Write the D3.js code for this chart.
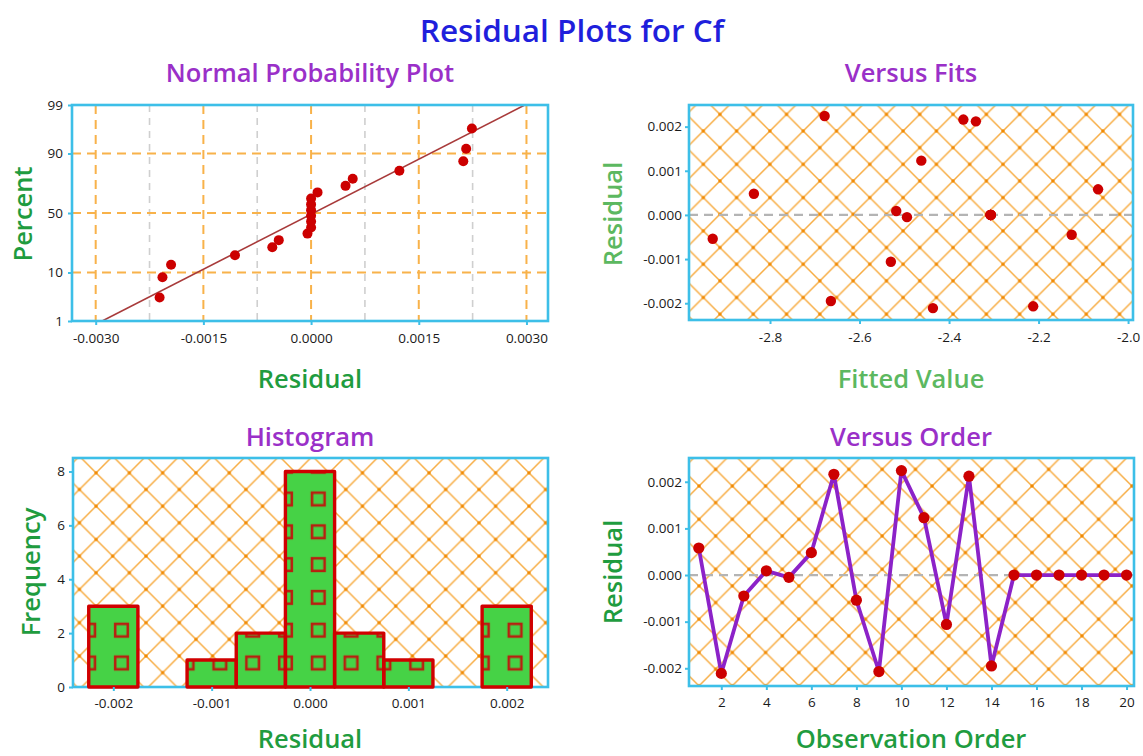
<!DOCTYPE html>
<html><head><meta charset="utf-8">
<script src="https://cdn.jsdelivr.net/npm/d3@7"></script>
<style>
body{margin:0;background:#fff}
svg{display:block}
text{font-family:'Open Sans','Noto Sans',sans-serif}
</style>
</head><body>
<svg id="c" width="1143" height="756"></svg>
<script>
// ---------------- data ----------------
const residuals = [0.00058, -0.00211, -0.00045, 0.00009, -0.00005, 0.00048, 0.00216, -0.00054, -0.00207, 0.00224,
                   0.00123, -0.00106, 0.00212, -0.00195, 0, 0, 0, 0, 0, 0];
const fittedValues = [-2.067, -2.436, -2.126, -2.518, -2.494, -2.836, -2.368, -2.928, -2.212, -2.678,
                      -2.462, -2.530, -2.340, -2.664, -2.307, -2.307, -2.307, -2.307, -2.307, -2.307];
const observationOrder = [1,2,3,4,5,6,7,8,9,10,11,12,13,14,15,16,17,18,19,20];
const percentTicks = [1, 10, 50, 90, 99];
const percentGrid = [10, 50, 90];
const nppResidualTicks = [-0.003, -0.0015, 0, 0.0015, 0.003];
const nppMinorTicks = [-0.00225, -0.00075, 0.00075, 0.00225];
const fitTicks = [-2.8, -2.6, -2.4, -2.2, -2.0];
const residualTicks = [-0.002, -0.001, 0, 0.001, 0.002];
const frequencyTicks = [0, 2, 4, 6, 8];
const histResidualTicks = [-0.002, -0.001, 0, 0.001, 0.002];
const orderTicks = [2, 4, 6, 8, 10, 12, 14, 16, 18, 20];
const histBinEdges = [-0.00225, -0.00175, -0.00125, -0.00075, -0.00025, 0.00025, 0.00075, 0.00125, 0.00175, 0.00225];

// ---------------- helpers ----------------
function qnorm(p){
  const a=[-3.969683028665376e+01,2.209460984245205e+02,-2.759285104469687e+02,1.383577518672690e+02,-3.066479806614716e+01,2.506628277459239e+00];
  const b=[-5.447609879822406e+01,1.615858368580409e+02,-1.556989798598866e+02,6.680131188771972e+01,-1.328068155288572e+01];
  const c=[-7.784894002430293e-03,-3.223964580411365e-01,-2.400758277161838e+00,-2.549732539343734e+00,4.374664141464968e+00,2.938163982698783e+00];
  const d=[7.784695709041462e-03,3.224671290700398e-01,2.445134137142996e+00,3.754408661907416e+00];
  const pl=0.02425, ph=1-pl; let q,r;
  if(p<pl){q=Math.sqrt(-2*Math.log(p));return (((((c[0]*q+c[1])*q+c[2])*q+c[3])*q+c[4])*q+c[5])/((((d[0]*q+d[1])*q+d[2])*q+d[3])*q+1);}
  if(p<=ph){q=p-0.5;r=q*q;return (((((a[0]*r+a[1])*r+a[2])*r+a[3])*r+a[4])*r+a[5])*q/(((((b[0]*r+b[1])*r+b[2])*r+b[3])*r+b[4])*r+1);}
  q=Math.sqrt(-2*Math.log(1-p));return -(((((c[0]*q+c[1])*q+c[2])*q+c[3])*q+c[4])*q+c[5])/((((d[0]*q+d[1])*q+d[2])*q+d[3])*q+1);
}
const loc = d3.formatLocale({decimal:'.', thousands:',', grouping:[3], currency:['$',''], minus:'-'});

const C = {
  title:'#1f1fdc', sub:'#9a30c8', dkGreen:'#1f9c3f', ltGreen:'#5cb860',
  frame:'#3dbfe8', red:'#cc0000', hatch:'#f7ac42', hatchDot:'#f08800',
  orangeGrid:'#f8b24a', grayGrid:'#cfcfcf', zero:'#b4b4b4', line:'#8c22c8',
  barFill:'#46d246', barStroke:'#d00000', sq:'#b82010', fitLine:'#a83a3a'
};
const SUB = 25.5;

const svg = d3.select('#c');
const defs = svg.append('defs');

function hatch(id, ox, oy){
  const s = 33.3;
  const p = defs.append('pattern').attr('id', id).attr('patternUnits','userSpaceOnUse')
    .attr('width', s).attr('height', s).attr('x', ox).attr('y', oy);
  p.append('path')
    .attr('d', `M0,0L${s},${s}M${s},0L0,${s}M${s-1},-1l2,2M-1,${s-1}l2,2M-1,1l2,-2M${s-1},${s+1}l2,-2`)
    .attr('stroke', C.hatch).attr('stroke-width', 1.5).attr('fill','none');
  [[0,0],[s,0],[0,s],[s,s],[s/2,s/2]].forEach(([x,y]) =>
    p.append('circle').attr('cx',x).attr('cy',y).attr('r',1.7).attr('fill',C.hatchDot));
}
hatch('hFits', 703.3, 131);
hatch('hHist', 146, 622.7);
hatch('hOrder', 699, 486);

const sqS = 32.8;
const sq = defs.append('pattern').attr('id','sqPat').attr('patternUnits','userSpaceOnUse')
  .attr('width', sqS).attr('height', sqS).attr('x', 318.3 - sqS/2).attr('y', 499 - sqS/2);
sq.append('rect').attr('x', sqS/2-6.3).attr('y', sqS/2-6.3).attr('width',12.6).attr('height',12.6)
  .attr('fill','none').attr('stroke',C.sq).attr('stroke-width',2.6);

function clip(id, b){
  defs.append('clipPath').attr('id', id).append('rect')
    .attr('x', b.x0).attr('y', b.y0).attr('width', b.x1-b.x0).attr('height', b.y1-b.y0);
}
function frame(b){
  svg.append('rect').attr('x', b.x0).attr('y', b.y0).attr('width', b.x1-b.x0).attr('height', b.y1-b.y0)
    .attr('fill','none').attr('stroke', C.frame).attr('stroke-width', 2.6);
}
function styleAxis(g){
  g.select('.domain').remove();
  g.selectAll('.tick line').attr('stroke', C.frame).attr('stroke-width', 2);
  g.selectAll('.tick text').attr('fill', '#1a1a1a').attr('font-size', 13.5)
    .attr('font-family', "'Open Sans','Noto Sans',sans-serif");
}
function txt(x, y, s, size, color, weight, rot){
  const t = svg.append('text').attr('text-anchor','middle').attr('dominant-baseline','central')
    .attr('font-size', size).attr('fill', color).attr('font-weight', weight || 600).text(s);
  if(rot) t.attr('transform', `translate(${x},${y}) rotate(-90)`);
  else t.attr('x', x).attr('y', y);
  return t;
}

// titles
txt(572, 29, 'Residual Plots for Cf', 31.5, C.title, 600);
txt(310, 72, 'Normal Probability Plot', SUB, C.sub);
txt(911, 72, 'Versus Fits', SUB, C.sub);
txt(310, 436, 'Histogram', SUB, C.sub);
txt(911, 436, 'Versus Order', SUB, C.sub);

// ---------------- Panel 1 : Normal probability ----------------
const b1 = {x0:72, x1:548, y0:105, y1:321};
clip('c1', b1);
const x1 = d3.scaleLinear().domain([-0.00333, 0.00330]).range([b1.x0, b1.x1]);
const y1 = d3.scaleLinear().domain([qnorm(0.01), qnorm(0.99)]).range([b1.y1, b1.y0]);
const g1 = svg.append('g').attr('clip-path','url(#c1)');
g1.selectAll('.mg').data(nppMinorTicks).join('line')
  .attr('x1', d=>x1(d)).attr('x2', d=>x1(d)).attr('y1', b1.y0).attr('y2', b1.y1)
  .attr('stroke', C.grayGrid).attr('stroke-width', 1.6).attr('stroke-dasharray','7,6');
g1.selectAll('.vg').data(nppResidualTicks).join('line')
  .attr('x1', d=>x1(d)).attr('x2', d=>x1(d)).attr('y1', b1.y0).attr('y2', b1.y1)
  .attr('stroke', C.orangeGrid).attr('stroke-width', 2).attr('stroke-dasharray','9,6');
g1.selectAll('.hg').data(percentGrid).join('line')
  .attr('y1', d=>y1(qnorm(d/100))).attr('y2', d=>y1(qnorm(d/100))).attr('x1', b1.x0).attr('x2', b1.x1)
  .attr('stroke', C.orangeGrid).attr('stroke-width', 2).attr('stroke-dasharray','9,6');
const mu = d3.mean(residuals), sd = d3.deviation(residuals);
const zLo = qnorm(0.01), zHi = qnorm(0.99);
g1.append('line').attr('x1', x1(mu + sd*zLo)).attr('y1', y1(zLo)).attr('x2', x1(mu + sd*zHi)).attr('y2', y1(zHi))
  .attr('stroke', C.fitLine).attr('stroke-width', 1.6);
const sorted = residuals.slice().sort(d3.ascending);
const n = sorted.length;
g1.selectAll('.pt').data(sorted).join('circle')
  .attr('cx', d=>x1(d)).attr('cy', (d,i)=>y1(qnorm((i+1-0.3)/(n+0.4)))).attr('r', 5).attr('fill', C.red);
frame(b1);
svg.append('g').attr('transform', `translate(0,${b1.y1})`)
  .call(d3.axisBottom(x1).tickValues(nppResidualTicks).tickFormat(loc.format('.4f')).tickSize(4).tickPadding(8))
  .call(styleAxis);
svg.append('g').attr('transform', `translate(${b1.x0},0)`)
  .call(d3.axisLeft(y1).tickValues(percentTicks.map(p=>qnorm(p/100))).tickFormat((d,i)=>percentTicks[i]).tickSize(4).tickPadding(5))
  .call(styleAxis);
txt(310, 378, 'Residual', SUB, C.dkGreen);
txt(22, 214, 'Percent', SUB, C.dkGreen, 600, true);

// ---------------- Panel 2 : Versus fits ----------------
const b2 = {x0:689, x1:1133, y0:105, y1:320};
clip('c2', b2);
const x2 = d3.scaleLinear().domain([-2.981, -1.989]).range([b2.x0, b2.x1]);
const y2 = d3.scaleLinear().domain([-0.00238, 0.00249]).range([b2.y1, b2.y0]);
const g2 = svg.append('g').attr('clip-path','url(#c2)');
g2.append('rect').attr('x', b2.x0).attr('y', b2.y0).attr('width', b2.x1-b2.x0).attr('height', b2.y1-b2.y0).attr('fill','url(#hFits)');
g2.append('line').attr('x1', b2.x0).attr('x2', b2.x1).attr('y1', y2(0)).attr('y2', y2(0))
  .attr('stroke', C.zero).attr('stroke-width', 2.2).attr('stroke-dasharray','9,6');
g2.selectAll('.pt').data(residuals).join('circle')
  .attr('cx', (d,i)=>x2(fittedValues[i])).attr('cy', d=>y2(d)).attr('r', 5.2).attr('fill', C.red);
frame(b2);
svg.append('g').attr('transform', `translate(0,${b2.y1})`)
  .call(d3.axisBottom(x2).tickValues(fitTicks).tickFormat(loc.format('.1f')).tickSize(4).tickPadding(8))
  .call(styleAxis);
svg.append('g').attr('transform', `translate(${b2.x0},0)`)
  .call(d3.axisLeft(y2).tickValues(residualTicks).tickFormat(loc.format('.3f')).tickSize(4).tickPadding(3))
  .call(styleAxis);
txt(911, 378, 'Fitted Value', SUB, C.ltGreen);
txt(612, 214, 'Residual', SUB, C.ltGreen, 600, true);

// ---------------- Panel 3 : Histogram ----------------
const b3 = {x0:73, x1:548, y0:458, y1:687};
clip('c3', b3);
const x3 = d3.scaleLinear().domain([-0.00241, 0.00242]).range([b3.x0, b3.x1]);
const y3 = d3.scaleLinear().domain([0, 8.5]).range([b3.y1, b3.y0]);
const bins = d3.bin().domain([histBinEdges[0], histBinEdges[histBinEdges.length-1]]).thresholds(histBinEdges.slice(1,-1))(residuals);
const g3 = svg.append('g').attr('clip-path','url(#c3)');
g3.append('rect').attr('x', b3.x0).attr('y', b3.y0).attr('width', b3.x1-b3.x0).attr('height', b3.y1-b3.y0).attr('fill','url(#hHist)');
frame(b3);
const nz = bins.filter(b=>b.length>0);
const bg = svg.append('g');
bg.selectAll('.bf').data(nz).join('rect')
  .attr('x', d=>x3(d.x0)).attr('y', d=>y3(d.length)).attr('width', d=>x3(d.x1)-x3(d.x0)).attr('height', d=>y3(0)-y3(d.length))
  .attr('fill', C.barFill);
bg.selectAll('.bp').data(nz).join('rect')
  .attr('x', d=>x3(d.x0)).attr('y', d=>y3(d.length)).attr('width', d=>x3(d.x1)-x3(d.x0)).attr('height', d=>y3(0)-y3(d.length))
  .attr('fill', 'url(#sqPat)');
bg.selectAll('.bs').data(nz).join('rect')
  .attr('x', d=>x3(d.x0)).attr('y', d=>y3(d.length)).attr('width', d=>x3(d.x1)-x3(d.x0)).attr('height', d=>y3(0)-y3(d.length))
  .attr('fill', 'none').attr('stroke', C.barStroke).attr('stroke-width', 3.4).attr('stroke-linejoin','round');
svg.append('g').attr('transform', `translate(0,${b3.y1})`)
  .call(d3.axisBottom(x3).tickValues(histResidualTicks).tickFormat(loc.format('.3f')).tickSize(4).tickPadding(7))
  .call(styleAxis);
svg.append('g').attr('transform', `translate(${b3.x0},0)`)
  .call(d3.axisLeft(y3).tickValues(frequencyTicks).tickFormat(loc.format('d')).tickSize(4).tickPadding(4))
  .call(styleAxis);
txt(310, 738, 'Residual', SUB, C.dkGreen);
txt(30, 572, 'Frequency', SUB, C.dkGreen, 600, true);

// ---------------- Panel 4 : Versus order ----------------
const b4 = {x0:689, x1:1134, y0:458, y1:686};
clip('c4', b4);
const x4 = d3.scaleLinear().domain([0.565, 20.33]).range([b4.x0, b4.x1]);
const y4 = d3.scaleLinear().domain([-0.00238, 0.00251]).range([b4.y1, b4.y0]);
const g4 = svg.append('g').attr('clip-path','url(#c4)');
g4.append('rect').attr('x', b4.x0).attr('y', b4.y0).attr('width', b4.x1-b4.x0).attr('height', b4.y1-b4.y0).attr('fill','url(#hOrder)');
g4.append('line').attr('x1', b4.x0).attr('x2', b4.x1).attr('y1', y4(0)).attr('y2', y4(0))
  .attr('stroke', C.zero).attr('stroke-width', 2.2).attr('stroke-dasharray','9,6');
frame(b4);
const lineGen = d3.line().x((d,i)=>x4(observationOrder[i])).y(d=>y4(d));
svg.append('path').datum(residuals).attr('d', lineGen).attr('fill','none')
  .attr('stroke', C.line).attr('stroke-width', 3.8).attr('stroke-linejoin','round');
svg.selectAll('.op').data(residuals).join('circle')
  .attr('cx', (d,i)=>x4(observationOrder[i])).attr('cy', d=>y4(d)).attr('r', 5.6).attr('fill', C.red);
svg.append('g').attr('transform', `translate(0,${b4.y1})`)
  .call(d3.axisBottom(x4).tickValues(orderTicks).tickFormat(loc.format('d')).tickSize(4).tickPadding(7))
  .call(styleAxis);
svg.append('g').attr('transform', `translate(${b4.x0},0)`)
  .call(d3.axisLeft(y4).tickValues(residualTicks).tickFormat(loc.format('.3f')).tickSize(4).tickPadding(3))
  .call(styleAxis);
txt(911, 738, 'Observation Order', SUB, C.dkGreen);
txt(612, 572, 'Residual', SUB, C.dkGreen, 600, true);
</script>
</body></html>
